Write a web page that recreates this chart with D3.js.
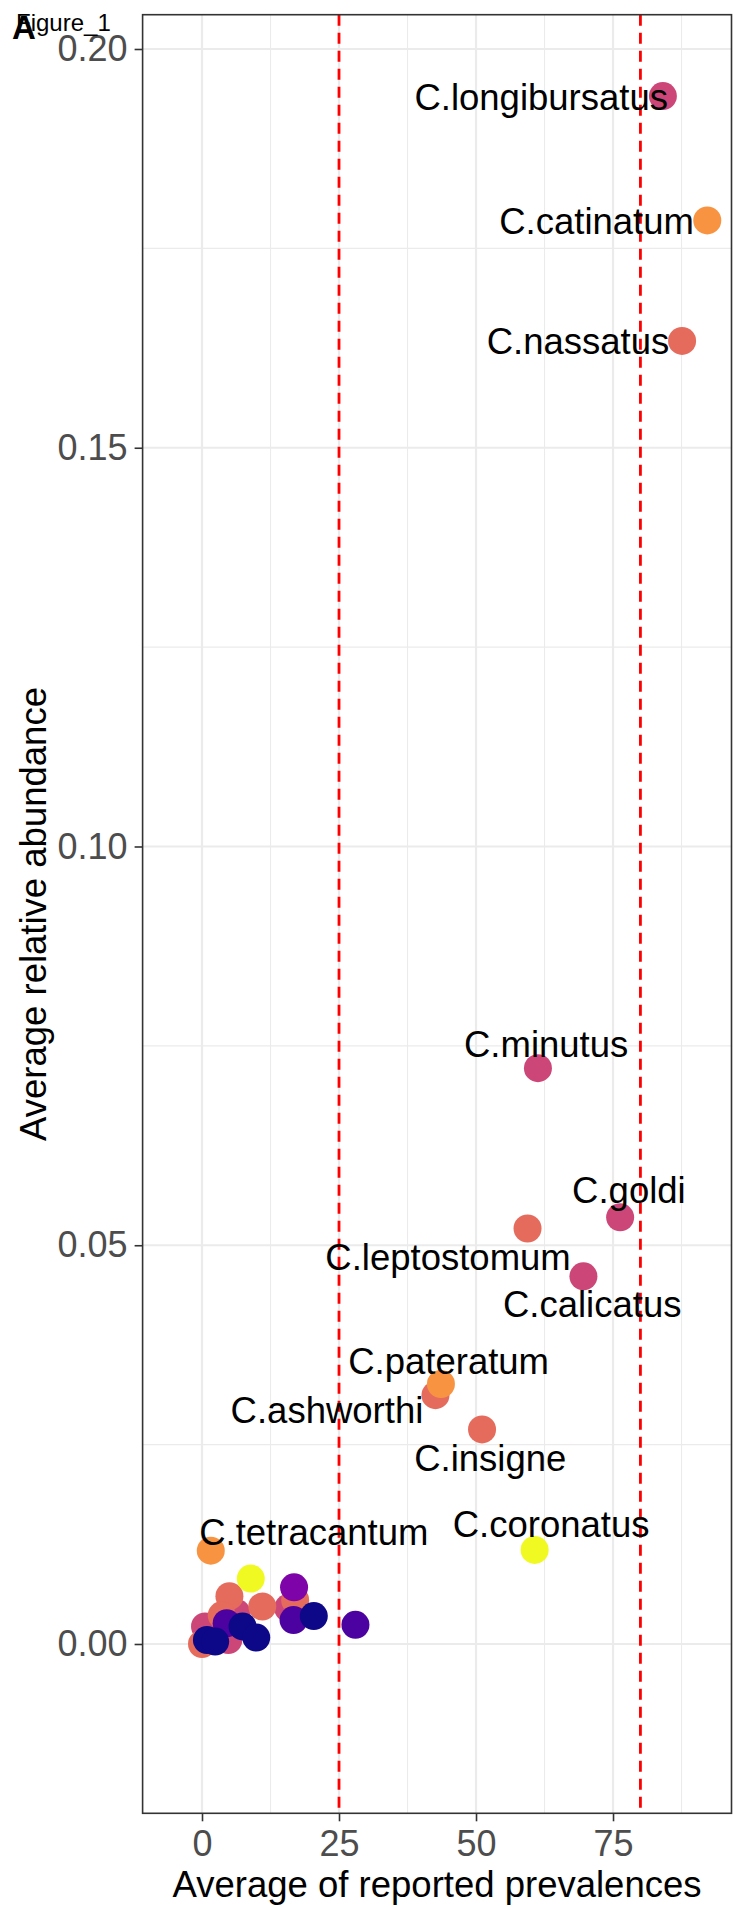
<!DOCTYPE html>
<html>
<head>
<meta charset="utf-8">
<script src="https://cdn.jsdelivr.net/npm/d3@7"></script>
<style>
  body { margin: 0; background: #fff; }
  text { font-family: "Liberation Sans", Arial, sans-serif; }
</style>
</head>
<body>
<svg id="chart" width="733" height="1907"></svg>
<script>
// ---------- data ----------
const species = ["C.longibursatus","C.catinatum","C.nassatus","C.minutus","C.goldi","C.leptostomum",
  "C.calicatus","C.ashworthi","C.pateratum","C.insigne","C.coronatus","C.tetracantum",
  "","","","","","","","","","","","","","","","","","",""];
const prevalence = [84.1, 92.2, 87.6, 61.3, 76.3, 59.4, 69.6, 42.6, 43.6, 51.1, 60.7, 1.6,
  0.55, 15.7, 6.3, 4.8, 5.0, 11.0, 3.6, 17.0, 0.0, 8.9, 16.8, 16.7, 28.0, 4.5, 20.4, 7.4, 9.9, 0.9, 2.4];
const abundance = [0.1941, 0.1785, 0.1634, 0.0722, 0.0535, 0.0521, 0.0461, 0.0312, 0.0326, 0.0269, 0.0118, 0.0117,
  0.0022, 0.0045, 0.0039, 0.0005, 0.0060, 0.0047, 0.0036, 0.0055, 0.0000, 0.0082, 0.0071, 0.0030, 0.0024, 0.0026,
  0.0035, 0.0022, 0.0008, 0.0005, 0.0003];
const colourGroup = [4, 6, 5, 4, 4, 5, 4, 5, 6, 5, 8, 6,
  4, 4, 4, 4, 5, 5, 5, 5, 5, 8, 2, 1, 1, 1, 0, 0, 0, 0, 0];
// label centres (data units)
const labelX = [61.9, 72.0, 68.6, 62.8, 77.9, 44.9, 71.2, 22.8, 45.0, 52.6, 63.7, 20.4];
const labelY = [0.1940, 0.1784, 0.1634, 0.0752, 0.0569, 0.0485, 0.0426, 0.0294, 0.0355, 0.0233, 0.0151, 0.0140];
const palette = ["#0D0887","#4C02A1","#7E03A8","#A92395","#CC4778","#E56B5D","#F89441","#FDC328","#F0F921"];
const xTicks = [0, 25, 50, 75];
const xMinor = [12.5, 37.5, 62.5, 87.5];
const yTicks = [0.00, 0.05, 0.10, 0.15, 0.20];
const yMinor = [0.025, 0.075, 0.125, 0.175];
const thresholds = [25, 80];
const xDomain = [-10.84, 96.62];
const yDomain = [-0.02123, 0.2043];

// ---------- layout ----------
const svg = d3.select("#chart");
const L = 142.6, R = 731.5, T = 14.7, B = 1813.3;
const x = d3.scaleLinear().domain(xDomain).range([L, R]);
const y = d3.scaleLinear().domain(yDomain).range([B, T]);

// grid
const grid = svg.append("g");
grid.selectAll(".xm").data(xMinor).join("line")
  .attr("x1", d => x(d)).attr("x2", d => x(d)).attr("y1", T).attr("y2", B)
  .attr("stroke", "#EBEBEB").attr("stroke-width", 1.1);
grid.selectAll(".ym").data(yMinor).join("line")
  .attr("y1", d => y(d)).attr("y2", d => y(d)).attr("x1", L).attr("x2", R)
  .attr("stroke", "#EBEBEB").attr("stroke-width", 1.1);
grid.selectAll(".xM").data(xTicks).join("line")
  .attr("x1", d => x(d)).attr("x2", d => x(d)).attr("y1", T).attr("y2", B)
  .attr("stroke", "#EBEBEB").attr("stroke-width", 2.2);
grid.selectAll(".yM").data(yTicks).join("line")
  .attr("y1", d => y(d)).attr("y2", d => y(d)).attr("x1", L).attr("x2", R)
  .attr("stroke", "#EBEBEB").attr("stroke-width", 2.2);

// threshold lines
svg.append("g").selectAll("line").data(thresholds).join("line")
  .attr("x1", d => x(d)).attr("x2", d => x(d)).attr("y1", T).attr("y2", B)
  .attr("stroke", "#FF0000").attr("stroke-width", 2.8).attr("stroke-dasharray", "11,7");

// points
svg.append("g").selectAll("circle").data(d3.range(prevalence.length)).join("circle")
  .attr("cx", i => x(prevalence[i])).attr("cy", i => y(abundance[i])).attr("r", 14)
  .attr("fill", i => palette[colourGroup[i]]);

// labels
svg.append("g").selectAll("text").data(d3.range(labelX.length)).join("text")
  .attr("x", i => x(labelX[i])).attr("y", i => y(labelY[i])).attr("dy", "0.36em")
  .attr("text-anchor", "middle").attr("font-size", 36.5).attr("fill", "#000")
  .text(i => species[i]);

// panel border
svg.append("rect").attr("x", L).attr("y", T).attr("width", R - L).attr("height", B - T)
  .attr("fill", "none").attr("stroke", "#333333").attr("stroke-width", 1.6);

// axes
const xAxis = svg.append("g").attr("transform", `translate(0,${B})`)
  .call(d3.axisBottom(x).tickValues(xTicks).tickSize(8).tickPadding(9).tickFormat(d3.format("d")));
const yAxis = svg.append("g").attr("transform", `translate(${L},0)`)
  .call(d3.axisLeft(y).tickValues(yTicks).tickSize(8).tickPadding(7).tickFormat(d3.format(".2f")));
[xAxis, yAxis].forEach(a => {
  a.select(".domain").remove();
  a.selectAll(".tick line").attr("stroke", "#333333").attr("stroke-width", 1.6);
  a.selectAll(".tick text").attr("fill", "#4D4D4D").attr("font-size", 36)
    .attr("font-family", "'Liberation Sans', Arial, sans-serif");
});

// axis titles
svg.append("text").attr("x", (L + R) / 2).attr("y", 1896.5).attr("text-anchor", "middle")
  .attr("font-size", 36.5).attr("fill", "#000").text("Average of reported prevalences");
svg.append("text").attr("transform", `translate(46,${(T + B) / 2}) rotate(-90)`)
  .attr("text-anchor", "middle").attr("font-size", 36.5).attr("fill", "#000")
  .text("Average relative abundance");

// title + tag
svg.append("text").attr("x", 16).attr("y", 31).attr("font-size", 24).attr("fill", "#000").text("Figure_1");
svg.append("text").attr("x", 12).attr("y", 39).attr("font-size", 33).attr("font-weight", "bold")
  .attr("fill", "#000").text("A");
</script>
</body>
</html>
